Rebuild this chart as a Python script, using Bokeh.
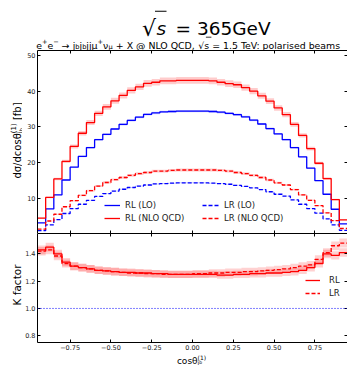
import math
from bokeh.plotting import figure
from bokeh.models import (Range1d, LinearAxis, FixedTicker, Label, Legend, LegendItem,
                          Span, CustomJSTickFormatter)
from bokeh.layouts import column, row
from bokeh.embed import file_html
from bokeh.resources import INLINE

# ---------------- data ----------------
bin_edges = [round(-0.95 + 0.05 * i, 2) for i in range(39)]

rl_lo = [3.1, 7.0, 10.9, 15.1, 18.7, 21.7, 24.2, 26.4, 27.9, 29.4, 30.7, 31.8, 32.7, 33.5, 33.9, 34.2, 34.3, 34.4, 34.4,
         34.4, 34.4, 34.3, 34.1, 33.8, 33.4, 32.8, 31.9, 30.8, 29.5, 28.0, 26.4, 24.2, 21.6, 18.4, 14.9, 11.1, 6.9, 2.8]
rl_nlo = [4.4, 10.2, 15.4, 20.3, 24.5, 28.2, 31.2, 33.8, 35.6, 37.3, 38.8, 40.2, 41.2, 42.2, 42.5, 42.9, 42.9, 43.0, 43.0,
          43.0, 43.0, 42.9, 42.5, 42.1, 41.8, 41.0, 40.0, 38.7, 37.2, 35.3, 33.4, 30.7, 27.6, 23.9, 19.8, 15.5, 9.6, 3.9]
lr_lo = [0.9, 2.5, 4.0, 5.7, 7.1, 8.3, 9.4, 10.5, 11.3, 12.0, 12.5, 13.0, 13.4, 13.7, 14.0, 14.1, 14.2, 14.3, 14.3,
         14.3, 14.3, 14.2, 14.1, 13.9, 13.6, 13.3, 12.9, 12.4, 11.8, 11.1, 10.6, 9.5, 8.3, 7.1, 5.8, 4.2, 2.5, 1.0]
lr_nlo = [1.3, 3.6, 5.5, 7.6, 9.3, 10.8, 12.1, 13.4, 14.4, 15.2, 15.8, 16.4, 16.9, 17.2, 17.6, 17.6, 17.8, 17.9, 17.9,
          17.9, 17.9, 17.9, 17.8, 17.6, 17.2, 16.9, 16.4, 15.8, 15.1, 14.3, 13.7, 12.4, 10.9, 9.4, 7.9, 5.9, 3.7, 1.5]
k_rl = [1.43, 1.45, 1.40, 1.34, 1.31, 1.30, 1.29, 1.28, 1.275, 1.27, 1.265, 1.265, 1.26, 1.26, 1.255, 1.255, 1.25, 1.25, 1.25,
        1.25, 1.25, 1.25, 1.245, 1.245, 1.25, 1.25, 1.255, 1.255, 1.26, 1.26, 1.265, 1.27, 1.28, 1.30, 1.33, 1.40, 1.39, 1.41]
k_lr = [1.42, 1.43, 1.385, 1.33, 1.31, 1.30, 1.29, 1.28, 1.275, 1.27, 1.265, 1.26, 1.26, 1.255, 1.255, 1.25, 1.25, 1.25, 1.25,
        1.255, 1.255, 1.26, 1.26, 1.265, 1.265, 1.27, 1.27, 1.275, 1.28, 1.285, 1.29, 1.30, 1.31, 1.32, 1.36, 1.41, 1.46, 1.48]
nlo_rel_unc = 0.022
lo_rel_unc = 0.010
k_reference = 1.0

x_ticks = [-0.75, -0.5, -0.25, 0.0, 0.25, 0.5, 0.75]
y_ticks_top = [10, 20, 30, 40, 50]
y_ticks_k = [0.8, 1.0, 1.2, 1.4]
x_limits = (-0.95, 0.95)
y_limits_top = (0.1, 51.4)
y_limits_k = (0.75, 1.55)

# ---------------- styling / layout ----------------
FONT = "DejaVu Sans"
RED = "#ff0000"
BLUE = "#0000ff"
W = 347
STRIP_W = 22
MAIN_W = W - STRIP_W
FRAME_L = 35
TITLE_H = 50
TOP_H = 183
BOT_B = 10
BOT_H = 109 + BOT_B
XL_H = 365 - TITLE_H - TOP_H - BOT_H
MID_BOTTOM = TITLE_H + TOP_H + BOT_H
LW = 1.3

EM = {' ': .318, '+': .838, '−': .838, '→': .838, 'e': .615, 'j': .278, 'b': .635, 'μ': .636, 'ν': .592,
      'X': .685, '@': 1.0, 'N': .748, 'L': .557, 'O': .787, 'Q': .787, 'C': .698, 'D': .770, ',': .318,
      '√': .838, 's': .521, '=': .838, '1': .636, '.': .318, '5': .636, 'T': .611, 'V': .684, ':': .337,
      'p': .635, 'o': .612, 'l': .278, 'a': .613, 'r': .411, 'i': .278, 'd': .635, 'm': .974, '(': .390,
      ')': .390, 'c': .550, 'θ': .612, 'σ': .634, '/': .337, 'f': .352, '[': .390, ']': .390, 'K': .656,
      't': .392}


def tw(s, size):
    return sum(EM.get(c, 0.6) for c in s) * size


def stepify(v):
    return list(v) + [v[-1]]


def make_axis(ticks, labels=True, fmt=None, size="6.5px"):
    kw = dict(ticker=FixedTicker(ticks=ticks), axis_line_color="black", axis_line_width=1,
              major_tick_in=3, major_tick_out=0, minor_tick_in=0, minor_tick_out=0,
              major_tick_line_color="black", major_tick_line_width=1,
              major_label_text_font=FONT, major_label_text_color="#222222")
    if labels:
        kw.update(major_label_text_font_size=size, major_label_standoff=2, formatter=fmt)
    else:
        kw.update(major_label_text_font_size="0px", major_label_standoff=0,
                  formatter=CustomJSTickFormatter(code="return '';"))
    return LinearAxis(**kw)


def base_fig(height, yr, **kw):
    p = figure(width=MAIN_W, height=height, x_range=Range1d(*x_limits), y_range=Range1d(*yr),
               x_axis_location=None, y_axis_location=None, toolbar_location=None, tools="",
               output_backend="svg", min_border_left=FRAME_L - STRIP_W, min_border_right=0,
               outline_line_color=None, background_fill_color="white", border_fill_color="white", **kw)
    p.grid.visible = False
    return p


def pixel_fig(width, height, y_top, y_bottom, x_left=0):
    # a plain strip whose data coordinates are the page's pixel coordinates
    p = figure(width=width, height=height, x_range=Range1d(x_left, x_left + width),
               y_range=Range1d(y_bottom, y_top), x_axis_location=None, y_axis_location=None,
               toolbar_location=None, tools="", output_backend="svg", min_border=0,
               outline_line_color=None, background_fill_color="white", border_fill_color="white")
    p.grid.visible = False
    return p


def lab(fig, x, y, text, size, angle=0.0, align="left", **kw):
    fig.add_layout(Label(x=x, y=y, text=text, text_font=FONT, text_font_size=f"{size}px", angle=angle,
                         text_baseline="alphabetic", text_align=align, text_color="black", **kw))


def run(fig, x, y, text, size, rotated=False, **kw):
    """place a piece of a composed text; leading spaces become a shift (SVG drops them)"""
    lead = len(text) - len(text.lstrip(" "))
    shift = tw(" " * lead, size)
    if rotated:
        lab(fig, x, y - shift, text.strip(" "), size, math.pi / 2, **kw)
        return y - tw(text, size)
    lab(fig, x + shift, y, text.strip(" "), size, **kw)
    return x + tw(text, size)


# ---------------- title strip ----------------
tf = pixel_fig(W, TITLE_H, 0, TITLE_H)

rad_size = 22
lab(tf, 155.5, 27.5, "√", rad_size, align="right")
lab(tf, 156.0, 27.5, "s", 18.5, text_font_style="italic")
lab(tf, 175.0, 27.5, "= 365GeV", 18.5)
tf.segment(x0=[154.5], y0=[27.5 - 0.76 * rad_size], x1=[166.0], y1=[27.5 - 0.76 * rad_size],
           line_color="black", line_width=1.1)

fs, fsm = 9.4, 6.6
segs = [("e", 0), ("+", 1), ("e", 0), ("−", 1), (" → j", 0), ("b", -1), ("j", 0), ("b", -1), ("jjμ", 0),
        ("+", 1), ("ν", 0), ("μ", -1), (" + X @ NLO QCD,", 0), (" √s = 1.5 TeV: polarised beams", 0)]
total = sum(tw(s, fs if k == 0 else fsm) for s, k in segs)
cx, base = 190.0 - total / 2, 44.5
for s, kind in segs:
    if kind == 0:
        if "√s" in s:
            sx = cx + tw(s[:s.index("s")], fs)
            tf.segment(x0=[sx - 0.3], y0=[base - 7.8], x1=[sx + tw("s", fs) + 0.3], y1=[base - 7.8],
                       line_color="black", line_width=0.8)
        cx = run(tf, cx, base, s, fs)
    else:
        cx = run(tf, cx, base - 3.8 if kind == 1 else base + 1.8, s, fsm)

# ---------------- top panel ----------------
top = base_fig(TOP_H, y_limits_top, min_border_top=0, min_border_bottom=0)
top.add_layout(make_axis(y_ticks_top, True, CustomJSTickFormatter(code="return tick.toFixed(0);")), "left")
top.add_layout(make_axis(y_ticks_top, False), "right")
top.add_layout(make_axis(x_ticks, False), "above")
top.add_layout(make_axis(x_ticks, False), "below")

for vals, rel, col, a in [(rl_lo, lo_rel_unc, BLUE, 0.18), (lr_lo, lo_rel_unc, BLUE, 0.18),
                          (rl_nlo, nlo_rel_unc, RED, 0.2), (lr_nlo, nlo_rel_unc, RED, 0.2)]:
    top.varea_step(x=bin_edges, y1=stepify([v * (1 - rel) for v in vals]),
                   y2=stepify([v * (1 + rel) for v in vals]), step_mode="after",
                   fill_color=col, fill_alpha=a)

styles = {"RL (LO)": (rl_lo, BLUE, "solid"), "RL (NLO QCD)": (rl_nlo, RED, "solid"),
          "LR (LO)": (lr_lo, BLUE, "4 2"), "LR (NLO QCD)": (lr_nlo, RED, "4 2")}
keys = {}
for name, (vals, col, dash) in styles.items():
    top.step(x=bin_edges, y=stepify(vals), mode="after", line_color=col, line_width=LW, line_dash=dash)
    keys[name] = top.line(x=[math.nan], y=[math.nan], line_color=col, line_width=LW, line_dash=dash)


def legend(items, loc, gw, standoff, size="8.5px"):
    return Legend(items=items, location=loc, orientation="vertical", padding=0, margin=0, spacing=1,
                  glyph_width=gw, glyph_height=12, label_height=12, label_standoff=standoff,
                  label_text_font=FONT, label_text_font_size=size, label_text_color="#222222",
                  border_line_color=None, background_fill_alpha=0)


top.add_layout(legend([LegendItem(label="RL (LO)", renderers=[keys["RL (LO)"]]),
                       LegendItem(label="RL (NLO QCD)", renderers=[keys["RL (NLO QCD)"]])],
                      (67, 9), 16, 5), "center")
top.add_layout(legend([LegendItem(label="LR (LO)", renderers=[keys["LR (LO)"]]),
                       LegendItem(label="LR (NLO QCD)", renderers=[keys["LR (NLO QCD)"]])],
                      (165, 9), 17, 5), "center")

# ---------------- ratio panel ----------------
bot = base_fig(BOT_H, y_limits_k, min_border_top=0, min_border_bottom=BOT_B)
bot.add_layout(make_axis(y_ticks_k, True, CustomJSTickFormatter(code="return tick.toFixed(1);")), "left")
bot.add_layout(make_axis(y_ticks_k, False), "right")
bot.add_layout(make_axis(x_ticks, False), "above")
bot.add_layout(make_axis(x_ticks, True, CustomJSTickFormatter(
    code="return (tick < 0 ? '\\u2212' : '') + Math.abs(tick).toFixed(2);")), "below")

for vals in (k_rl, k_lr):
    bot.varea_step(x=bin_edges, y1=stepify([v * (1 - nlo_rel_unc) for v in vals]),
                   y2=stepify([v * (1 + nlo_rel_unc) for v in vals]), step_mode="after",
                   fill_color=RED, fill_alpha=0.18)
bot.step(x=bin_edges, y=stepify(k_rl), mode="after", line_color=RED, line_width=LW)
bot.step(x=bin_edges, y=stepify(k_lr), mode="after", line_color=RED, line_width=LW, line_dash="4 2")
bot.add_layout(Span(location=k_reference, dimension="width", line_color=BLUE, line_width=1, line_dash="1 2"))

k_rl_key = bot.line(x=[math.nan], y=[math.nan], line_color=RED, line_width=LW)
k_lr_key = bot.line(x=[math.nan], y=[math.nan], line_color=RED, line_width=LW, line_dash="4 2")
bot.add_layout(legend([LegendItem(label="RL", renderers=[k_rl_key]), LegendItem(label="LR", renderers=[k_lr_key])],
                      (268, 43), 15, 9), "center")

# ---------------- left strip with the rotated axis titles ----------------
ls = pixel_fig(STRIP_W, TOP_H + BOT_H, TITLE_H, MID_BOTTOM)
fy, fy_s, fy_ss = 10, 7, 5
w1 = tw("dσ/dcosθ", fy)
wstack = max(tw("(1)", fy_s), tw("j", fy_s) + tw("b", fy_ss))
wtot = w1 + wstack + tw(" [fb]", fy)
bx, y0 = 17.0, 140 + wtot / 2
run(ls, bx, y0, "dσ/dcosθ", fy, rotated=True)
yj = run(ls, bx + 2.0, y0 - w1, "j", fy_s, rotated=True)
run(ls, bx + 3.0, yj, "b", fy_ss, rotated=True)
run(ls, bx - 4.0, y0 - w1, "(1)", fy_s, rotated=True)
run(ls, bx, y0 - w1 - wstack, " [fb]", fy, rotated=True)
kw_k = tw("K factor", 10.5)
run(ls, 16.5, 284.5 + kw_k / 2, "K factor", 10.5, rotated=True)

# ---------------- bottom strip with the x axis title ----------------
xs = pixel_fig(W, XL_H, MID_BOTTOM, 365)
fx, fx_s, fx_ss = 9.0, 6.0, 4.5
wc = tw("cosθ", fx)
wst = max(tw("(1)", fx_s), tw("j", fx_s) + tw("b", fx_ss))
X0 = 191 - (wc + wst) / 2
bl = 360.4
xj = run(xs, X0, bl, "cosθ", fx)
xb = run(xs, xj, bl + 1.3, "j", fx_s)
run(xs, xb, bl + 1.9, "b", fx_ss)
run(xs, xj, bl - 3.0, "(1)", fx_s)

layout = column(tf, row(ls, column(top, bot, spacing=0), spacing=0), xs, spacing=0)
with open("out.html", "w", encoding="utf-8") as f:
    f.write(file_html(layout, INLINE))
